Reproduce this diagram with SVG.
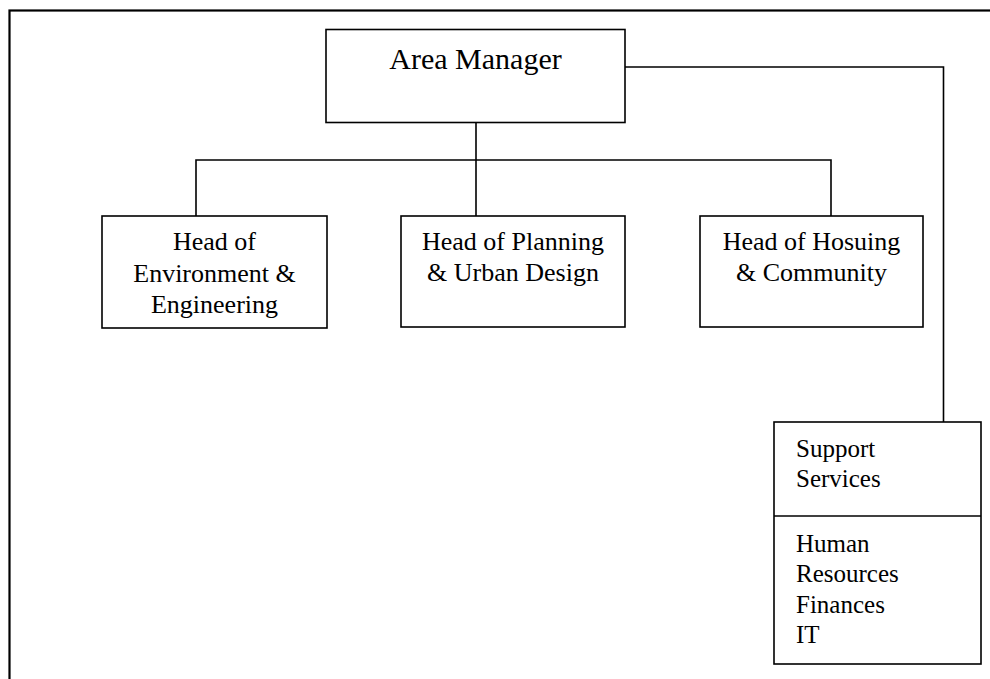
<svg xmlns="http://www.w3.org/2000/svg" width="990" height="679" viewBox="0 0 990 679">
<style>
.box{fill:#fff;stroke:#000;stroke-width:1.6}
.ln{fill:none;stroke:#000;stroke-width:1.6}
text{font-family:"Liberation Serif","Times New Roman",serif;fill:#000}
.t{font-size:26px;text-anchor:middle}
.s{font-size:25px}
</style>
<rect x="9.5" y="10.5" width="1000" height="700" fill="#fff" stroke="#000" stroke-width="2.2"/>
<g id="connectors">
<path class="ln" d="M476 122V160M196 216V160H831V216M476 160V216"/>
<path class="ln" d="M625 67H943.5V422"/>
</g>
<g id="area-manager">
<rect class="box" x="326" y="29.5" width="299" height="93"/>
<text x="475.5" y="69" font-size="30" text-anchor="middle">Area Manager</text>
</g>
<g id="head-env">
<rect class="box" x="102" y="216" width="225" height="112"/>
<text class="t" x="214.5" y="250">Head of</text>
<text class="t" x="214.5" y="282">Environment &amp;</text>
<text class="t" x="214.5" y="313">Engineering</text>
</g>
<g id="head-planning">
<rect class="box" x="401" y="216" width="224" height="111"/>
<text class="t" x="513" y="250">Head of Planning</text>
<text class="t" x="513" y="281">&amp; Urban Design</text>
</g>
<g id="head-housing">
<rect class="box" x="700" y="216" width="223" height="111"/>
<text class="t" x="811.5" y="250">Head of Hosuing</text>
<text class="t" x="811.5" y="281">&amp; Community</text>
</g>
<g id="support-services">
<rect class="box" x="774" y="422" width="207" height="242"/>
<line class="ln" x1="774" y1="516" x2="981" y2="516"/>
<text class="s" x="796" y="457">Support</text>
<text class="s" x="796" y="487">Services</text>
<text class="s" x="796" y="552">Human</text>
<text class="s" x="796" y="582">Resources</text>
<text class="s" x="796" y="613">Finances</text>
<text class="s" x="796" y="643">IT</text>
</g>
</svg>
